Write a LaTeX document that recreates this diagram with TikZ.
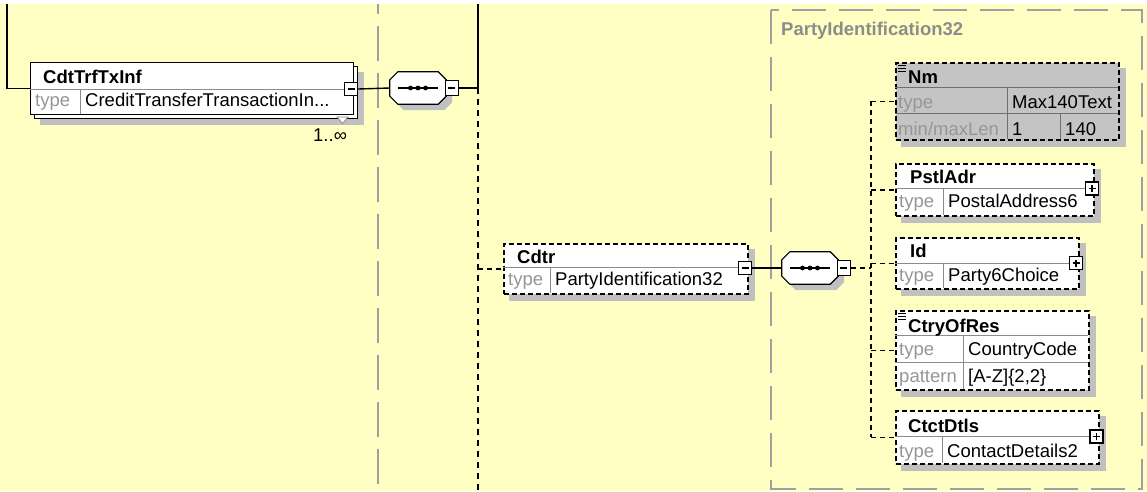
\documentclass[tikz,border=0pt]{standalone}
\usepackage{fontspec}
\setmainfont{Liberation Sans}
\usetikzlibrary{positioning}
\definecolor{xsdpaper}{HTML}{FFFFC4}
\definecolor{xsdrule}{HTML}{A0A0A0}
\definecolor{xsdshade}{HTML}{C0C0C0}
\definecolor{xsdkey}{HTML}{969696}
\definecolor{xsdsep}{HTML}{8C8C8C}
\definecolor{xsdsimple}{HTML}{C4C4C4}
\pgfdeclarelayer{shade}
\pgfsetlayers{shade,main}

\begin{document}
\begin{tikzpicture}[x=1pt, y=-1pt, font=\fontsize{18.5}{21}\selectfont,
  every node/.style={inner sep=0},
  elembox/.style={draw, fill=white, line width=1.2pt, anchor=north west},
  optbox/.style={elembox, line width=1.7pt, dash pattern=on 5pt off 3pt},
  seqframe/.style={minimum width=56pt, minimum height=32pt},
  togglebox/.style={draw, fill=white, line width=1.3pt, minimum width=13pt, minimum height=13pt},
  minusbox/.style={togglebox, path picture={\draw[line width=1.3pt]
    ([xshift=-3.5pt]path picture bounding box.center) -- ([xshift=3.5pt]path picture bounding box.center);}},
  plusbox/.style={togglebox, path picture={\draw[line width=1.3pt]
    ([xshift=-3.5pt]path picture bounding box.center) -- ([xshift=3.5pt]path picture bounding box.center)
    ([yshift=-3.5pt]path picture bounding box.center) -- ([yshift=3.5pt]path picture bounding box.center);}},
  conn/.style={line width=1.4pt},
  optconn/.style={line width=1.4pt, dash pattern=on 5pt off 4pt},
  busline/.style={line width=2pt, dash pattern=on 6pt off 5pt},
  rulerline/.style={xsdrule, line width=2pt, dash pattern=on 35pt off 12pt},
  sepline/.style={xsdsep, line width=1pt},
  lbl/.style={anchor=base west},
  hdr/.style={lbl, font=\fontsize{18.5}{21}\selectfont\bfseries},
  typekey/.style={lbl, text=xsdkey},
]

% ---- paper
\begin{pgfonlayer}{shade}
  \fill[white] (0,0) rectangle (1147,491);
  \fill[xsdpaper] (0,4) rectangle (1147,491);
\end{pgfonlayer}
\useasboundingbox (0,0) rectangle (1147,491);

% ---- column rule and complex type frame
\draw[rulerline, dash phase=25pt] (378,4) -- (378,491);
\draw[xsdrule, line width=2pt, dash pattern=on 34pt off 13pt] (771,10) rectangle (1142,489);
\node[hdr, text=xsdsep] (ptitle) at (781,35) {PartyIdentification32};

% ============================================== CdtTrfTxInf
\coordinate (lefttop) at (7,4);
\node[elembox, minimum width=323pt, minimum height=52pt] (txback) at (34,66) {};
\node[elembox, minimum width=323pt, minimum height=52pt] (txinf) at (30,62) {};
\draw[sepline] (30,89) -- (353,89) (80,89) -- (80,114);
\node[hdr] (txname) at (43,83) {CdtTrfTxInf};
\node[typekey] (txkey) at (35,106) {type};
\node[lbl] (txtype) at (85,106) {CreditTransferTransactionIn...};
\draw[xsdsep, fill=white, line width=0.8pt] (337,117) -- (348,117) -- (342.5,123.5) -- cycle;
\node[lbl] (txocc) at (313,141) {1..∞};
\node[minusbox] (txminus) at (351,89) {};
\draw[conn] (lefttop) |- (txinf.west);

% ---- sequences (outline, shadow, dots, toggle)
\node[seqframe] (seqa) at (418,88) {};
\node[seqframe] (seqb) at (810,268) {};
\foreach \s in {seqa, seqb} {
  \begin{pgfonlayer}{shade}
    \fill[xsdshade, transform canvas={xshift=6pt, yshift=-6pt}]
      ([xshift=8pt]\s.north west) -- ([xshift=-8pt]\s.north east) -- ([yshift=-8pt]\s.north east)
      -- ([yshift=8pt]\s.south east) -- ([xshift=-8pt]\s.south east) -- ([xshift=8pt]\s.south west)
      -- ([yshift=8pt]\s.south west) -- ([yshift=-8pt]\s.north west) -- cycle;
  \end{pgfonlayer}
  \draw[line width=1.2pt, fill=white]
    ([xshift=8pt]\s.north west) -- ([xshift=-8pt]\s.north east) -- ([yshift=-8pt]\s.north east)
    -- ([yshift=8pt]\s.south east) -- ([xshift=-8pt]\s.south east) -- ([xshift=8pt]\s.south west)
    -- ([yshift=8pt]\s.south west) -- ([yshift=-8pt]\s.north west) -- cycle;
  \draw[conn] ([xshift=-20pt]\s.center) -- ([xshift=20pt]\s.center);
  \foreach \d in {-7.5,0,7.5}
    \fill ([xshift=\d pt]\s.center) circle (2.4pt);
  \node[minusbox, minimum height=15pt, right=-1.5pt of \s] (\s-minus) {};
}
\coordinate (busatop) at (478,4);
\coordinate (busa) at (478,88);
\coordinate (busabot) at (478,491);
\draw[conn] (txminus.east) -- (seqa.west);
\draw[conn] (seqa-minus.east) -- (busa) -- (busatop);
\draw[busline] (busa) -- (busabot);

% ============================================== Cdtr
\node[optbox, minimum width=244pt, minimum height=50pt] (cdtr) at (503,243) {};
\draw[sepline] (503,267) -- (747,267) (550,267) -- (550,293);
\node[hdr] (cdtrname) at (517,263) {Cdtr};
\node[typekey] (cdtrkey) at (508,285) {type};
\node[lbl] (cdtrtype) at (555,285) {PartyIdentification32};
\node[minusbox] (cdtrminus) at (745,268) {};
\draw[optconn] (busa |- cdtr.west) -- (cdtr.west);
\coordinate (busb) at (871,268);
\draw[conn] (cdtrminus.east) -- (seqb.west);
\draw[optconn] (seqb-minus.east) -- (busb);

% ============================================== children
% Nm
\node[optbox, fill=xsdsimple, minimum width=223pt, minimum height=77pt] (nm) at (895,62) {};
\draw[sepline, xsdsep!80!black] (895,87) -- (1118,87) (895,113) -- (1118,113)
  (1007,87) -- (1007,139) (1060,113) -- (1060,139);
\foreach \k in {0,3,6} \draw[line width=0.9pt] (898,65+\k) -- (906,65+\k);
\node[hdr] (nmname) at (908,83) {Nm};
\node[typekey] (nmkey) at (898,108) {type};
\node[lbl] (nmtype) at (1012,108) {Max140Text};
\node[typekey] (nmlenkey) at (898,135) {min/maxLen};
\node[lbl] (nmmin) at (1012,135) {1};
\node[lbl] (nmmax) at (1065,135) {140};

% PstlAdr
\node[optbox, minimum width=198pt, minimum height=52pt] (pstl) at (895,163) {};
\draw[sepline] (895,188) -- (1093,188) (943,188) -- (943,215);
\node[hdr] (pstlname) at (910,183) {PstlAdr};
\node[typekey] (pstlkey) at (899,207) {type};
\node[lbl] (pstltype) at (948,207) {PostalAddress6};
\node[plusbox] (pstlplus) at (1092,188.5) {};

% Id
\node[optbox, minimum width=183pt, minimum height=51pt] (id) at (895,237) {};
\draw[sepline] (895,263) -- (1078,263) (943,263) -- (943,288);
\node[hdr] (idname) at (910,257) {Id};
\node[typekey] (idkey) at (899,281) {type};
\node[lbl] (idtype) at (948,281) {Party6Choice};
\node[plusbox] (idplus) at (1076,263) {};

% CtryOfRes
\node[optbox, minimum width=193pt, minimum height=79pt] (ctry) at (895,310) {};
\draw[sepline] (895,335) -- (1088,335) (895,362) -- (1088,362) (963,335) -- (963,389);
\foreach \k in {0,3,6} \draw[line width=0.9pt] (898,313+\k) -- (906,313+\k);
\node[hdr] (ctryname) at (908,332) {CtryOfRes};
\node[typekey] (ctrykey) at (899,355) {type};
\node[lbl] (ctrytype) at (968,355) {CountryCode};
\node[typekey] (ctrypatkey) at (899,382) {pattern};
\node[lbl] (ctrypat) at (968,382) {[A-Z]\{2,2\}};

% CtctDtls
\node[optbox, minimum width=203pt, minimum height=53pt] (ctct) at (895,410) {};
\draw[sepline] (895,436) -- (1098,436) (942,436) -- (942,463);
\node[hdr] (ctctname) at (908,432) {CtctDtls};
\node[typekey] (ctctkey) at (899,457) {type};
\node[lbl] (ctcttype) at (947,457) {ContactDetails2};
\node[plusbox] (ctctplus) at (1096.5,436.5) {};

% ---- child bus
\draw[optconn] (busb |- nm.west) -- (busb |- ctct.west);
\foreach \c in {nm, pstl, id, ctry, ctct}
  \draw[optconn] (busb |- \c.west) -- (\c.west);

% ---- box shadows
\begin{pgfonlayer}{shade}
  \foreach \b in {txback, cdtr, nm, pstl, id, ctry, ctct}
    \fill[xsdshade] ([shift={(6pt,-6pt)}]\b.north west) rectangle ([shift={(6pt,-6pt)}]\b.south east);
\end{pgfonlayer}

\end{tikzpicture}
\end{document}
